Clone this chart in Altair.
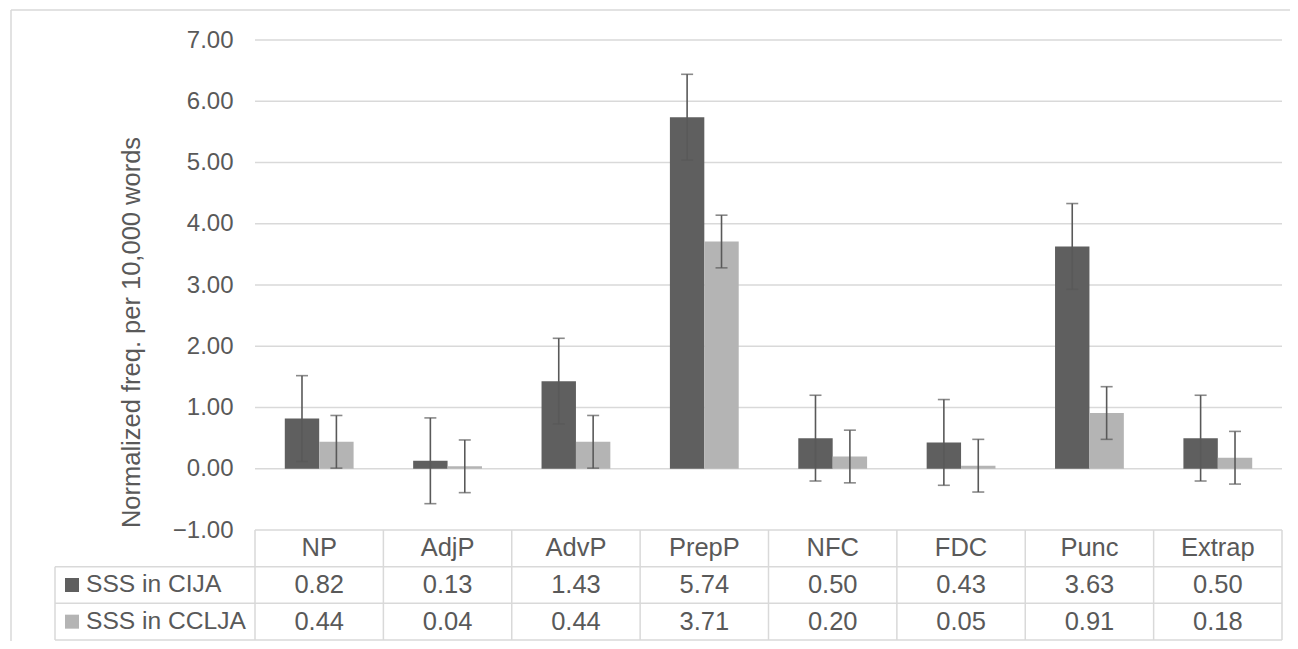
import altair as alt
import pandas as pd

# ---------------- data ----------------
categories = ["NP", "AdjP", "AdvP", "PrepP", "NFC", "FDC", "Punc", "Extrap"]
series_names = ["SSS in CIJA", "SSS in CCLJA"]
cija = [0.82, 0.13, 1.43, 5.74, 0.50, 0.43, 3.63, 0.50]
cclja = [0.44, 0.04, 0.44, 3.71, 0.20, 0.05, 0.91, 0.18]
cija_err = [0.70, 0.70, 0.70, 0.70, 0.70, 0.70, 0.70, 0.70]
cclja_err = [0.43, 0.43, 0.43, 0.43, 0.43, 0.43, 0.43, 0.43]
y_ticks = [-1, 0, 1, 2, 3, 4, 5, 6, 7]
series_colors = ["#5f5f5f", "#b4b4b4"]

# ---------------- layout constants ----------------
N = len(categories)
BAR_W = 0.268          # bar width in category units
LABEL_COL = 1.558      # width of the table's label column, in category units
Y_TOP = 7.0
Y_MIN = -1.0
ROW_H = 0.5986         # table row height in y units
Y_BOTTOM = Y_MIN - 3 * ROW_H
TEXT = "#595959"
GRID = "#d9d9d9"
FONT = "Liberation Sans"
FS = 24
FS_TABLE = 25.5
FS_ROWLAB = 24.6
FS_TITLE = 25.5

W, H = 1227, 600

rows = []
for s_idx, (s, vals, errs) in enumerate(
        [(series_names[0], cija, cija_err), (series_names[1], cclja, cclja_err)]):
    for i, (c, v, e) in enumerate(zip(categories, vals, errs)):
        rows.append(dict(cat=c, idx=i, series=s, s_idx=s_idx, value=v, err=e))
df = pd.DataFrame(rows)

xscale = alt.Scale(domain=[-LABEL_COL, N], nice=False, zero=False)
yscale = alt.Scale(domain=[Y_BOTTOM, Y_TOP], nice=False, zero=False)
yax = alt.Axis(values=y_ticks, format=".2f", grid=False, domain=False, ticks=False,
               offset=-200, labelPadding=22, labelFontSize=FS, labelFont=FONT,
               labelColor=TEXT, title="Normalized freq. per 10,000 words",
               titleFontSize=FS_TITLE, titleFont=FONT, titleColor=TEXT,
               titleFontWeight="normal", titlePadding=28, titleY=292)
color = alt.Color("series:N", scale=alt.Scale(domain=series_names, range=series_colors), legend=None)


def X(f):
    return alt.X(f, scale=xscale, axis=None)


def Y(f):
    return alt.Y(f, scale=yscale, axis=yax)


base = alt.Chart(df).transform_calculate(
    x0=f"datum.idx + 0.5 + (datum.s_idx - 1) * {BAR_W}",
    x1=f"datum.idx + 0.5 + datum.s_idx * {BAR_W}",
    xc=f"datum.idx + 0.5 + (datum.s_idx - 0.5) * {BAR_W}",
    lo="datum.value - datum.err",
    hi="datum.value + datum.err",
    rowy=f"{Y_MIN} - (datum.s_idx + 1.5) * {ROW_H}",
    cx="datum.idx + 0.5",
)

# grid lines + table lines
lines = []
for t in range(0, int(Y_TOP) + 1):
    lines.append(dict(x=0, x2=N, y=t, y2=t))
lines.append(dict(x=0, x2=N, y=Y_MIN, y2=Y_MIN))
for r in range(1, 4):
    yy = Y_MIN - r * ROW_H
    lines.append(dict(x=-LABEL_COL, x2=N, y=yy, y2=yy))
for c in range(0, N + 1):
    lines.append(dict(x=c, x2=c, y=Y_MIN, y2=Y_BOTTOM))
lines.append(dict(x=-LABEL_COL, x2=-LABEL_COL, y=Y_MIN - ROW_H, y2=Y_BOTTOM))
lines_df = pd.DataFrame(lines)

grid = alt.Chart(lines_df).mark_rule(color=GRID, strokeWidth=1.5).encode(
    x=X("x:Q"), x2="x2:Q", y=Y("y:Q"), y2="y2:Q",
)

bars = base.mark_rect().encode(
    x=X("x0:Q"), x2="x1:Q", y=Y("value:Q"), y2=alt.datum(0), color=color,
)

err_rule = base.mark_rule(color=TEXT, strokeWidth=1.6).encode(
    x=X("xc:Q"), y=Y("lo:Q"), y2="hi:Q",
)

caps = base.transform_fold(["lo", "hi"], as_=["end", "endval"]).mark_tick(
    color=TEXT, thickness=1.6, size=12, orient="horizontal").encode(
    x=X("xc:Q"), y=Y("endval:Q"),
)

cat_df = pd.DataFrame({"cat": categories, "idx": list(range(N))})
header = alt.Chart(cat_df).transform_calculate(
    cx="datum.idx + 0.5", hy=f"{Y_MIN} - 0.5 * {ROW_H}"
).mark_text(font=FONT, fontSize=FS_TABLE, color=TEXT, baseline="middle").encode(
    x=X("cx:Q"), y=Y("hy:Q"), text="cat:N",
)

values = base.mark_text(font=FONT, fontSize=FS_TABLE, color=TEXT, baseline="middle").encode(
    x=X("cx:Q"), y=Y("rowy:Q"), text=alt.Text("value:Q", format=".2f"),
)

ser_df = pd.DataFrame({"series": series_names, "s_idx": [0, 1]})
ser_base = alt.Chart(ser_df).transform_calculate(
    rowy=f"{Y_MIN} - (datum.s_idx + 1.5) * {ROW_H}", lx=f"{-LABEL_COL}"
)
row_labels = ser_base.mark_text(font=FONT, fontSize=FS_ROWLAB, color=TEXT, baseline="middle",
                                align="left", dx=31).encode(
    x=X("lx:Q"), y=Y("rowy:Q"), text="series:N",
)
swatches = ser_base.mark_square(size=196, opacity=1, xOffset=17).encode(
    x=X("lx:Q"), y=Y("rowy:Q"), color=color,
)

# outer chart-area border (decorative)
border_left = alt.Chart(pd.DataFrame({"k": [0]})).mark_rule(color=GRID, strokeWidth=1.5).encode(
    x=alt.value(-44), y=alt.value(-30), y2=alt.value(H + 5))
border_top = alt.Chart(pd.DataFrame({"k": [0]})).mark_rule(color=GRID, strokeWidth=1.5).encode(
    x=alt.value(-44), x2=alt.value(W + 10), y=alt.value(-30))

chart = alt.layer(
    grid, bars, err_rule, caps, header, values, row_labels, swatches, border_left, border_top
).properties(
    width=W, height=H,
    autosize=alt.AutoSizeParams(type="none"),
    padding={"left": 47, "top": 32, "right": 8, "bottom": 1},
    background="white",
).configure_view(stroke=None)

chart.save("out.html", embed_options={"renderer": "svg", "actions": False})
